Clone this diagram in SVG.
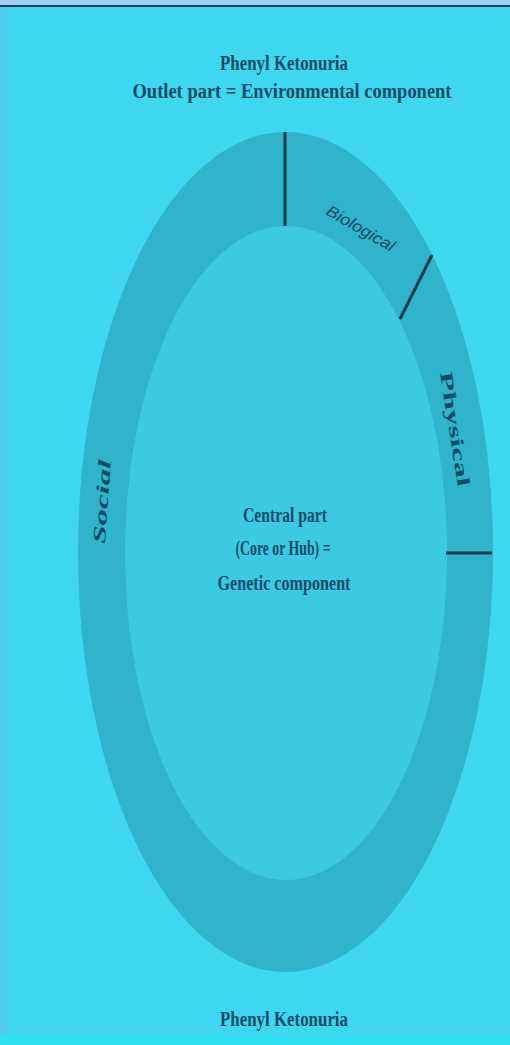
<svg xmlns="http://www.w3.org/2000/svg" width="510" height="1045" viewBox="0 0 510 1045">
<style>
.t{font-family:"Liberation Serif","DejaVu Serif",serif;fill:#0f4d66;font-weight:bold}
.lbl{font-family:"Liberation Sans","DejaVu Sans",sans-serif;fill:#134a60;font-size:16px}
.div{stroke:#123a4c;stroke-width:3;fill:none}
</style>
<rect x="0" y="0" width="510" height="1045" fill="#3fd7ef"/>
<rect x="0" y="0" width="510" height="5" fill="#9fcfee"/>
<rect x="0" y="5" width="510" height="2" fill="#1c3d5c"/>
<rect x="0" y="7" width="7" height="1038" fill="#4ccbec"/>
<rect x="0" y="1035" width="510" height="10" fill="#2fe0f3"/>
<g id="outer-ring">
<ellipse cx="285.5" cy="552" rx="207.5" ry="420" fill="#2fb4cc"/>
</g>
<g id="core">
<ellipse cx="286" cy="553" rx="161" ry="327" fill="#3cc9e2"/>
<text class="t" font-size="20" text-anchor="middle" x="285" y="522" textLength="84" lengthAdjust="spacingAndGlyphs">Central part</text>
<text class="t" font-size="20" text-anchor="middle" x="283" y="555" textLength="95" lengthAdjust="spacingAndGlyphs">(Core or Hub) =</text>
<text class="t" font-size="20" text-anchor="middle" x="284" y="590" textLength="133" lengthAdjust="spacingAndGlyphs">Genetic component</text>
</g>
<g id="connectors">
<line class="div" x1="285" y1="132" x2="285" y2="226"/>
<line class="div" x1="432" y1="255" x2="400" y2="319"/>
<line class="div" x1="446" y1="553" x2="492" y2="553"/>
</g>
<g id="biological">
<text class="lbl" font-style="italic" text-anchor="middle" transform="translate(358,233) rotate(30)" textLength="76" lengthAdjust="spacingAndGlyphs">Biological</text>
</g>
<g id="physical">
<text class="t" font-size="18" text-anchor="middle" transform="translate(449,430) rotate(81)" textLength="116" lengthAdjust="spacingAndGlyphs">Physical</text>
</g>
<g id="social">
<text class="t" font-size="18" font-style="italic" text-anchor="middle" transform="translate(108,502) rotate(-86)" textLength="84" lengthAdjust="spacingAndGlyphs">Social</text>
</g>
<g id="title-top">
<text class="t" font-size="20" text-anchor="middle" x="284" y="70" textLength="128" lengthAdjust="spacingAndGlyphs">Phenyl Ketonuria</text>
<text class="t" font-size="20" text-anchor="middle" x="292" y="98" textLength="319" lengthAdjust="spacingAndGlyphs">Outlet part  = Environmental component</text>
</g>
<g id="title-bottom">
<text class="t" font-size="20" text-anchor="middle" x="284" y="1026" textLength="128" lengthAdjust="spacingAndGlyphs">Phenyl Ketonuria</text>
</g>
</svg>
